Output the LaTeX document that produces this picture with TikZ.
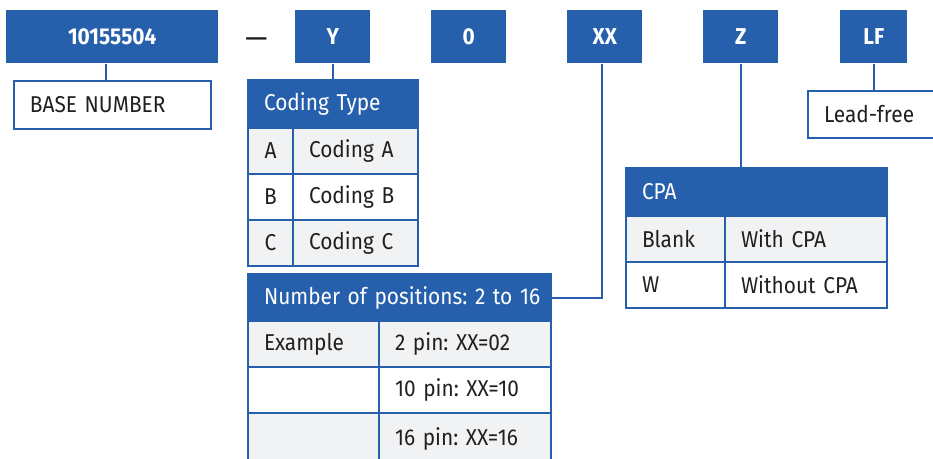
\documentclass[tikz,border=0pt]{standalone}
\usepackage{fontspec}
\setmainfont{Fira Sans}[FakeStretch=0.91]
\definecolor{fblue}{HTML}{2660AD}
\definecolor{fgray}{HTML}{F1F2F4}
\definecolor{fink}{HTML}{231F20}
\newcommand{\picfont}{\fontsize{17.2}{20}\selectfont\frenchspacing}
\tikzset{
  code/.style={anchor=north west, fill=fblue, text=white, font=\picfont\bfseries,
    minimum width=56.25pt, minimum height=39.75pt, inner sep=0pt},
  cell/.style 2 args={anchor=north west, minimum width=#1*0.75pt, minimum height=#2*0.75pt,
    text width={#1*0.75pt-24pt}, inner xsep=12pt, inner ysep=0pt, align=left,
    draw=fblue, line width=1.5pt, text=fink, font=\picfont},
  keycell/.style={text width=33.75pt, inner xsep=0pt, align=center},
  head/.style={fill=fblue, text=white},
  shade/.style={fill=fgray},
  link/.style={draw=fblue, line width=1.5pt}
}
\begin{document}
\begin{tikzpicture}[x=0.75pt, y=-0.75pt]
\useasboundingbox (0,0) rectangle (933,458);
% part number
\node[code, minimum width=159pt] (num) at (6,10) {10155504};
\node[text=fink, font=\fontsize{23}{23}\selectfont, inner sep=0pt] (dash) at (256.5,43) {—};
\node[code] (ycode) at (295,10) {Y};
\node[code] (zero) at (431,10) {0};
\node[code] (xx) at (567,10) {XX};
\node[code] (zcode) at (703,10) {Z};
\node[code, minimum width=50.25pt] (lf) at (840,10) {LF};

% base number
\node[cell={197}{48}] (base) at (13,80) {BASE NUMBER};

% coding type
\node[cell={170}{48}, head] (ctype) at (247,79) {Coding Type};
\node[cell={45}{46}, keycell, shade] (ka) at (247,127) {A};
\node[cell={125}{46}, shade] (va) at (292,127) {Coding A};
\node[cell={45}{46}, keycell] (kb) at (247,173) {B};
\node[cell={125}{46}] (vb) at (292,173) {Coding B};
\node[cell={45}{46}, keycell, shade] (kc) at (247,219) {C};
\node[cell={125}{46}, shade] (vc) at (292,219) {Coding C};

% positions
\node[cell={303}{47}, head] (npos) at (247,273) {\mbox{Number of positions: 2 to 16}};
\node[cell={131}{46}, shade] (ex) at (247,320) {Example};
\node[cell={172}{46}, shade] (p2) at (378,320) {2 pin: XX=02};
\node[cell={131}{46}] (ex10) at (247,366) {};
\node[cell={172}{46}] (p10) at (378,366) {10 pin: XX=10};
\node[cell={131}{52}, shade] (ex16) at (247,412) {};
\node[cell={172}{52}, shade] (p16) at (378,412) {16 pin: XX=16};

% cpa
\node[cell={261}{48}, head] (cpa) at (625,167) {CPA};
\node[cell={99}{46}, shade] (kblank) at (625,215) {Blank};
\node[cell={162}{46}, shade] (vblank) at (724,215) {With CPA};
\node[cell={99}{46}] (kw) at (625,261) {W};
\node[cell={162}{46}] (vw) at (724,261) {Without CPA};

% lead-free
\node[cell={140}{47}] (lead) at (807,90) {Lead-free};

% connectors
\draw[link] ([xshift=-4.5pt]num.south) -- ([xshift=-4.5pt]num.south |- base.north);
\draw[link] (ycode.south) -- (ycode.south |- ctype.north);
\draw[link] ([xshift=-2.25pt]xx.south) |- (npos.east);
\draw[link] (zcode.south) -- (zcode.south |- cpa.north);
\draw[link] (lf.south) -- (lf.south |- lead.north);
\end{tikzpicture}
\end{document}
